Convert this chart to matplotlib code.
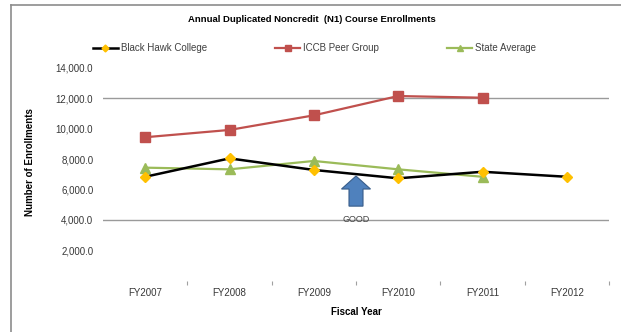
import matplotlib
matplotlib.use("Agg")
import matplotlib.pyplot as plt
from matplotlib.lines import Line2D
from matplotlib.patches import FancyArrow

plt.rcParams['font.family'] = ['Liberation Sans', 'DejaVu Sans']

years = ["FY2007", "FY2008", "FY2009", "FY2010", "FY2011", "FY2012"]
black_hawk = [6840, 8050, 7290, 6740, 7170, 6840]
iccb_peer = [9440, 9920, 10880, 12150, 12040]
state_avg = [7440, 7330, 7880, 7330, 6840]
yticks = [2000, 4000, 6000, 8000, 10000, 12000, 14000]
grid_levels = [4000, 12000]
arrow_x = 2.5
arrow_bottom = 4910
arrow_top = 6890
arrow_label_y = 4060

W, H = 621, 332
fig = plt.figure(figsize=(W / 100, H / 100), dpi=100)
ax = fig.add_axes([103 / W, 1 - 280.8 / H, (609 - 103) / W, (280.8 - 67.9) / H])

xs = list(range(len(years)))
for g in grid_levels:
    ax.axhline(g, color="#9a9a9a", lw=1.0, zorder=1)

ax.plot(xs[:len(iccb_peer)], iccb_peer, color="#C0504D", lw=1.6, marker="s",
        ms=6.5, mfc="#C0504D", mec="#C0504D", zorder=3)
ax.plot(xs[:len(state_avg)], state_avg, color="#9BBB59", lw=1.6, marker="^",
        ms=7, mfc="#9BBB59", mec="#9BBB59", zorder=3)
ax.plot(xs, black_hawk, color="black", lw=1.8, marker="D",
        ms=5, mfc="#FFC000", mec="#FFC000", zorder=4)

arr = FancyArrow(arrow_x, arrow_bottom, 0, arrow_top - arrow_bottom,
                 width=0.166, head_width=0.344, head_length=855,
                 length_includes_head=True, fc="#4F81BD", ec="#385D8A",
                 lw=0.8, zorder=5)
ax.add_patch(arr)
ax.text(arrow_x, arrow_label_y, "GOOD", ha="center", va="center",
        fontsize=6.5, color="#404040", zorder=6)

ax.set_xlim(-0.5, len(years) - 0.5)
ax.set_ylim(0, 14000)
ax.set_xticks(xs)
ax.set_xticklabels(years)
ax.set_xticks([i + 0.5 for i in xs], minor=True)
ax.tick_params(axis="x", which="major", length=0, pad=5, labelsize=7, labelcolor="#383838")
ax.tick_params(axis="x", which="minor", length=3, color="#a0a0a0", width=0.8)
ax.set_yticks(yticks)
ax.set_yticklabels([f"{v:,.1f}" for v in yticks])
ax.tick_params(axis="y", length=0, pad=7, labelsize=7, labelcolor="#383838")
for s in ax.spines.values():
    s.set_visible(False)

fig.text(312 / W, 1 - 20 / H, "Annual Duplicated Noncredit  (N1) Course Enrollments",
         ha="center", va="center", fontsize=6.8, fontweight="bold")
fig.text(356 / W, 1 - 312 / H, "Fiscal Year", ha="center", va="center",
         fontsize=7, fontweight="bold")
fig.text(30 / W, 1 - 162 / H, "Number of Enrollments", ha="center", va="center",
         rotation=90, fontsize=7, fontweight="bold")

handles = [
    Line2D([], [], color="black", lw=1.8, marker="D", ms=3.5, mfc="#FFC000", mec="#FFC000"),
    Line2D([], [], color="#C0504D", lw=1.6, marker="s", ms=4, mfc="#C0504D", mec="#C0504D"),
    Line2D([], [], color="#9BBB59", lw=1.6, marker="^", ms=4, mfc="#9BBB59", mec="#9BBB59"),
]
fig.legend(handles, ["Black Hawk College", "ICCB Peer Group", "State Average"],
           loc="center", bbox_to_anchor=(314.5 / W, 1 - 48 / H), ncol=3,
           frameon=False, fontsize=7, handlelength=2.6, handletextpad=0.3,
           columnspacing=7.0, labelcolor="#404040")

x0, y0 = 10.5 / W, 1 - 5 / H
fig.add_artist(Line2D([x0, x0], [0, y0], transform=fig.transFigure, color="#8c8c8c", lw=1.2))
fig.add_artist(Line2D([x0, 1], [y0, y0], transform=fig.transFigure, color="#8c8c8c", lw=1.2))

fig.savefig("out.png", dpi=100)
